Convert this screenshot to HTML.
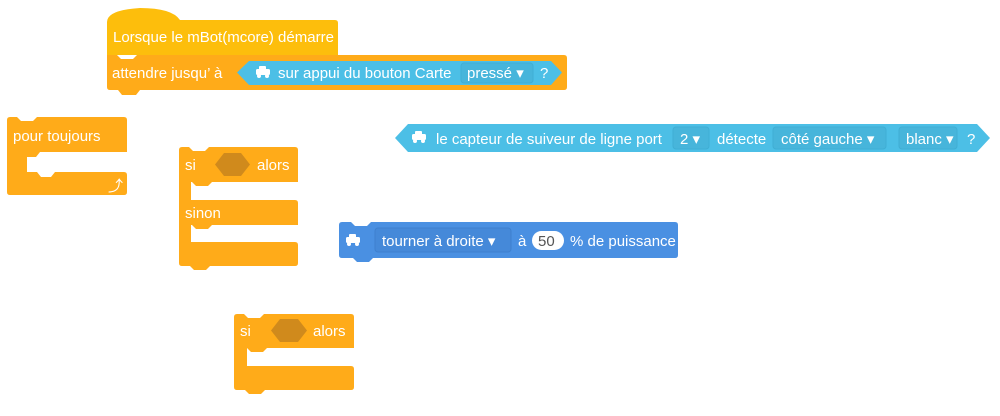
<!DOCTYPE html>
<html><head><meta charset="utf-8"><style>
html,body{margin:0;padding:0;background:#fff;width:1000px;height:416px;overflow:hidden}
svg text{font-family:"Liberation Sans",sans-serif;font-size:15px;fill:#fff}
</style></head><body>
<svg width="1000" height="416" viewBox="0 0 1000 416" xmlns="http://www.w3.org/2000/svg">
<defs>
<g id="bot"><rect x="0" y="3" width="14" height="6" rx="1.5" fill="#fff"/><rect x="3" y="0" width="7" height="4" rx="1" fill="#fff"/><circle cx="3" cy="10" r="2" fill="#fff"/><circle cx="11" cy="10" r="2" fill="#fff"/></g>
</defs>
<!-- hat block -->
<path d="M107,22 Q107,10 140,8 Q172,8 180,20 L335,20 Q338,20 338,23 L338,55 L107,55 Z" fill="#FDBE0C"/>
<text x="113" y="42">Lorsque le mBot(mcore) démarre</text>
<!-- wait block -->
<path d="M107,55 L117,55 L121,59 L133,59 L137,55 L564,55 Q567,55 567,58 L567,87 Q567,90 564,90 L140,90 L136,95 L122,95 L118,90 L110,90 Q107,90 107,87 Z" fill="#FFAB19"/>
<text x="112" y="78">attendre jusqu’  à</text>
<path d="M237,72.5 L249,61 L551,61 L562,72.5 L551,85 L249,85 Z" fill="#4CBFE6"/>
<use href="#bot" x="256" y="66"/>
<text x="278" y="78">sur appui du bouton Carte</text>
<rect x="461" y="63" width="72" height="20" rx="3" fill="#47B5DB" stroke="#3FAED4"/>
<text x="467" y="78">pressé ▾</text>
<text x="540" y="78">?</text>

<!-- forever -->
<path d="M10,117 L17,117 L21,121 L33,121 L37,117 L124,117 Q127,117 127,120 L127,152 L40,152 L36,157 L24,157 L20,152 L27,152 L27,172 L37,172 L41,177 L51,177 L55,172 L124,172 Q127,172 127,175 L127,192 Q127,195 124,195 L10,195 Q7,195 7,192 L7,120 Q7,117 10,117 Z" fill="#FFAB19"/>
<text x="13" y="141">pour toujours</text>
<text x="108" y="191" font-size="13">⤴</text>

<!-- if-else -->
<path d="M182,147 L189,147 L193,151 L205,151 L209,147 L295,147 Q298,147 298,150 L298,182 L212,182 L208,186 L196,186 L192,182 L191,182 L191,200 L295,200 Q298,200 298,203 L298,225 L212,225 L208,229 L196,229 L192,225 L191,225 L191,242 L295,242 Q298,242 298,245 L298,263 Q298,266 295,266 L210,266 L206,270 L194,270 L190,266 L182,266 Q179,266 179,263 L179,150 Q179,147 182,147 Z" fill="#FFAB19"/>
<text x="185" y="170">si</text>
<path d="M215,164.5 L224,153 L241,153 L250,164.5 L241,176 L224,176 Z" fill="#D08A1C"/>
<text x="257" y="170">alors</text>
<text x="185" y="218">sinon</text>

<!-- blue sensor -->
<path d="M395,138 L408,124 L977,124 L990,138 L977,152 L408,152 Z" fill="#4CBFE6"/>
<use href="#bot" x="412" y="131"/>
<text x="436" y="144">le capteur de suiveur de ligne  port</text>
<rect x="673" y="127" width="36" height="22" rx="3" fill="#47B5DB" stroke="#3FAED4"/>
<text x="680" y="144">2 ▾</text>
<text x="717" y="144">détecte</text>
<rect x="773" y="127" width="113" height="22" rx="3" fill="#47B5DB" stroke="#3FAED4"/>
<text x="781" y="144">côté gauche ▾</text>
<rect x="899" y="127" width="58" height="22" rx="3" fill="#47B5DB" stroke="#3FAED4"/>
<text x="906" y="144">blanc ▾</text>
<text x="967" y="144">?</text>

<!-- blue motion stack -->
<path d="M342,222 L351,222 L355,226 L367,226 L371,222 L675,222 Q678,222 678,225 L678,255 Q678,258 675,258 L373,258 L369,262 L357,262 L353,258 L342,258 Q339,258 339,255 L339,225 Q339,222 342,222 Z" fill="#4A90E2"/>
<use href="#bot" x="346" y="234"/>
<rect x="375" y="228" width="136" height="24" rx="3" fill="#4589D9" stroke="#3F80CF"/>
<text x="382" y="246">tourner à droite ▾</text>
<text x="518" y="246">à</text>
<rect x="532" y="231" width="32" height="19" rx="9.5" fill="#fff"/>
<text x="538" y="246" style="fill:#555">50</text>
<text x="570" y="246">% de puissance</text>

<!-- if 2 -->
<path d="M237,314 L244,314 L248,318 L260,318 L264,314 L351,314 Q354,314 354,317 L354,348 L267,348 L263,352 L251,352 L247,348 L247,348 L247,366 L351,366 Q354,366 354,369 L354,387 Q354,390 351,390 L265,390 L261,394 L249,394 L245,390 L237,390 Q234,390 234,387 L234,317 Q234,314 237,314 Z" fill="#FFAB19"/>
<text x="240" y="336">si</text>
<path d="M271,330.5 L280,319 L298,319 L307,330.5 L298,342 L280,342 Z" fill="#D08A1C"/>
<text x="313" y="336">alors</text>
</svg>
</body></html>
